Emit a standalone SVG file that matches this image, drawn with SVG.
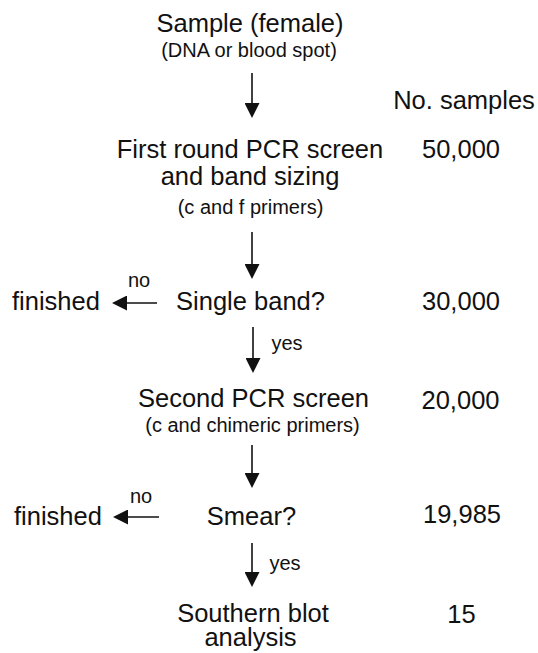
<svg xmlns="http://www.w3.org/2000/svg" width="538" height="653" viewBox="0 0 538 653">
<defs>
<marker id="ah" markerUnits="userSpaceOnUse" markerWidth="16" markerHeight="15" viewBox="0 0 16 15" refX="13" refY="7.5" orient="auto">
<path d="M0,0 L15,7.5 L0,15 z" fill="#111"/>
</marker>
<style>
text{font-family:"Liberation Sans",Arial,Helvetica,sans-serif;fill:#111}
.m{font-size:25.5px;text-anchor:middle}
.s{font-size:20px;text-anchor:middle}
.l{font-size:25.5px}
.c{stroke:#111;stroke-width:1.6;fill:none;marker-end:url(#ah)}
</style>
</defs>
<rect width="538" height="653" fill="#fff"/>
<g id="connectors">
<line class="c" x1="252" y1="73" x2="252" y2="116"/>
<line class="c" x1="252" y1="232" x2="252" y2="277"/>
<line class="c" x1="157" y1="303" x2="114" y2="303"/>
<line class="c" x1="253" y1="327" x2="253" y2="371"/>
<line class="c" x1="252" y1="445" x2="252" y2="486"/>
<line class="c" x1="159" y1="517" x2="115" y2="517"/>
<line class="c" x1="252" y1="543" x2="252" y2="585"/>
<text class="s" x="139" y="287">no</text>
<text class="s" x="287" y="350">yes</text>
<text class="s" x="141" y="503">no</text>
<text class="s" x="285" y="570">yes</text>
</g>
<g id="header">
<text class="m" x="464" y="109">No. samples</text>
</g>
<g id="sample">
<text class="m" x="250" y="32">Sample (female)</text>
<text class="s" x="249" y="57">(DNA or blood spot)</text>
</g>
<g id="first-round">
<text class="m" x="250" y="158">First round PCR screen</text>
<text class="m" x="250" y="185">and band sizing</text>
<text class="s" x="250.5" y="214">(c and f primers)</text>
<text class="m" x="461" y="158">50,000</text>
</g>
<g id="single-band">
<text class="m" x="250.5" y="310">Single band?</text>
<text class="m" x="461" y="310">30,000</text>
</g>
<g id="finished-1">
<text class="l" x="12" y="310">finished</text>
</g>
<g id="second-pcr">
<text class="m" x="253.5" y="407">Second PCR screen</text>
<text class="s" x="252.5" y="432">(c and chimeric primers)</text>
<text class="m" x="460.5" y="409">20,000</text>
</g>
<g id="smear">
<text class="m" x="251.5" y="525">Smear?</text>
<text class="m" x="462" y="523">19,985</text>
</g>
<g id="finished-2">
<text class="l" x="14" y="525">finished</text>
</g>
<g id="southern">
<text class="m" x="253" y="622">Southern blot</text>
<text class="m" x="250.5" y="646">analysis</text>
<text class="m" x="461.5" y="623">15</text>
</g>
</svg>
